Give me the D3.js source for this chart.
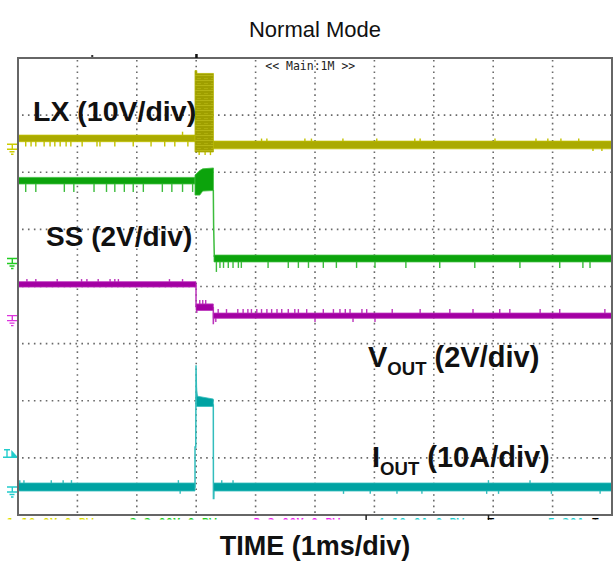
<!DOCTYPE html>
<html><head><meta charset="utf-8">
<script src="https://cdn.jsdelivr.net/npm/d3@7/dist/d3.min.js"></script>
<style>body{margin:0;background:#fff}svg{display:block}</style>
</head><body>
<svg id="c" width="613" height="561"></svg>
<script>
// ---------- data ----------
const titleText = "Normal Mode";
const xAxisLabel = "TIME (1ms/div)";
const timeDomain = [0, 10];          // ms (1 ms/div)
const divDomain = [0, 8];            // vertical divisions
const gridTimes = [1, 2, 3, 4, 5, 6, 7, 8, 9];
const gridDivs = [1, 2, 3, 4, 5, 6, 7];

const channelNames = ["LX", "SS", "VOUT", "IOUT"];
const channelUnitsPerDiv = [10, 2, 2, 10];
const channelGroundDiv = [6.49, 4.49, 3.49, 0.49];

// bands: [t(ms), low, high] in channel units
const lxBands = [
  [[0, 0.45, 1.6], [2.98, 0.45, 1.6]],
  [[3.29, -0.8, 0.55], [10, -0.8, 0.55]]
];
const lxBurst = [[2.98, -1.35, 12.9], [3.01, -1.35, 12.9], [3.012, -1.35, 12.4], [3.29, -1.35, 12.4]];
const lxLines = [];
const lxSpikes = [
  [0.13, -0.4], [0.22, -0.4], [0.30, -0.4], [0.44, -0.4], [0.54, -0.4], [0.62, -0.4], [0.71, -0.4],
  [0.81, -0.4], [0.89, -0.4], [1.08, -0.4], [1.33, -0.4], [1.38, -0.4], [1.63, -0.4], [1.94, -0.4],
  [2.24, -0.4], [2.47, -0.4], [2.64, -0.4], [2.77, 2.2], [2.86, -0.4],
  [3.05, -1.9], [3.15, -1.9], [3.24, -1.9],
  [4.10, 1.0], [4.19, 1.0], [4.83, 1.0], [4.94, 1.0], [5.47, 1.0], [6.04, 1.0], [6.68, 1.0],
  [6.77, 1.0], [8.03, 1.0], [8.72, 1.0], [8.92, 1.0], [9.14, 1.0], [9.44, 1.0], [9.68, -1.2], [9.83, -1.2]
];

const ssBands = [
  [[0, 2.61, 2.84], [2.98, 2.61, 2.84]],
  [[2.98, 2.22, 2.92], [3.06, 2.22, 3.08], [3.11, 2.36, 3.14], [3.29, 2.38, 3.17]],
  [[3.30, -0.12, 0.12], [10, -0.12, 0.12]]
];
const ssLines = [[[3.288, 2.4], [3.293, 1.2], [3.305, 0.05]]];
const ssSpikes = [
  [0.13, 2.33], [0.30, 2.33], [0.78, 2.33], [0.94, 2.33], [1.28, 2.33], [1.49, 2.33], [1.63, 2.33],
  [1.79, 2.33], [1.94, 2.33], [2.11, 2.33], [2.43, 2.33], [2.59, 2.33], [2.77, 2.33], [2.94, 2.33],
  [3.34, -0.47], [3.40, -0.33], [3.46, -0.33], [3.54, -0.33], [3.62, -0.33], [3.71, -0.33], [3.76, -0.33],
  [4.21, -0.33], [4.55, -0.33], [4.72, -0.33], [4.89, -0.33], [5.14, -0.33], [5.36, -0.33], [5.70, -0.33],
  [6.01, -0.33], [6.53, -0.33], [7.10, -0.33], [7.69, -0.33], [8.45, -0.33], [9.12, -0.33], [9.51, -0.33], [9.63, -0.33]
];

const voutBands = [
  [[0, 1.0, 1.19], [2.997, 1.0, 1.19]],
  [[2.997, 0.18, 0.41], [3.288, 0.18, 0.41]],
  [[3.288, -0.095, 0.09], [10, -0.095, 0.09]]
];
const voutLines = [[[2.997, 1.09], [2.997, 0.3]], [[3.288, 0.3], [3.288, -0.3], [3.296, 0]]];
const voutSpikes = [
  [0.15, 1.28], [0.30, 1.28], [0.66, 1.28], [1.07, 1.28], [1.16, 1.28], [1.35, 1.28], [1.55, 1.28],
  [1.63, 1.28], [1.69, 1.28], [2.55, 1.28], [2.77, 1.28],
  [3.01, 0.09], [3.06, 0.55], [3.11, 0.55], [3.16, 0.55],
  [3.33, -0.22], [3.37, 0.23], [3.51, 0.23], [3.70, 0.23], [3.79, 0.23], [3.87, 0.23], [3.93, 0.23],
  [4.02, 0.23], [4.10, 0.23], [4.19, 0.23], [4.27, 0.23], [4.36, 0.23], [4.44, 0.23], [4.55, 0.23],
  [4.66, 0.23], [4.72, 0.23], [4.86, 0.23], [5.00, -0.22], [5.14, 0.23], [5.31, 0.23], [5.42, 0.23],
  [5.51, 0.23], [5.59, 0.23], [5.64, -0.22], [5.79, 0.23], [5.87, 0.23], [6.01, -0.22], [6.30, 0.23],
  [6.77, 0.23], [7.27, 0.23], [7.66, 0.23], [8.11, 0.23], [8.28, 0.23], [8.79, 0.23], [9.12, 0.23], [9.88, 0.23]
];

const ioutBands = [
  [[0, -0.7, 0.7], [2.98, -0.7, 0.7]],
  [[3.003, 14.1, 17.0], [3.02, 14.1, 15.9], [3.288, 14.1, 15.4]],
  [[3.293, -0.7, 0.7], [10, -0.7, 0.7]]
];
const ioutLines = [
  [[2.975, 0], [2.98, 0], [2.98, 7.0], [2.993, 7.0], [2.997, 21.3], [3.003, 17.5], [3.013, 15.2]],
  [[3.288, 14.5], [3.29, -2.0], [3.297, -2.0], [3.30, 0]]
];
const ioutSpikes = [
  [0.03, 1.2], [0.10, 1.2], [0.56, 1.2], [0.76, 1.2], [0.90, 1.2], [2.70, 1.2], [2.73, -1.2],
  [3.43, 1.2], [3.62, 1.2], [5.48, -1.2], [5.93, -1.2], [6.38, -1.2], [6.80, -1.2], [7.89, -1.2],
  [7.92, 1.2], [8.09, -1.2], [8.62, 1.2], [8.98, -1.2], [9.80, -1.2]
];
const triggerLevel = 5.2;   // A on IOUT
const triggerTime = 3.0;    // ms

const readouts = [
  {text: "1  10.0V  \u03a9 BW", color: "#dddd00", t: -0.19},
  {text: "2  2.00V \u03a9 BW", color: "#22cc22", t: 1.88},
  {text: "3 2.00V \u03a9 BW", color: "#ee22ee", t: 3.96},
  {text: "4 10.0A \u03a9 BW", color: "#22cccc", t: 6.05},
  {text: "T", color: "#000", t: 7.9},
  {text: "5.20A", color: "#22cccc", t: 8.92},
  {text: "T", color: "#000", t: 9.66}
];

// ---------- drawing ----------
const W = 613, H = 561;
const L = 18, R = 612, T = 58, B = 515;
const svg = d3.select("#c");
const x = d3.scaleLinear().domain(timeDomain).range([L, R]);
const y = d3.scaleLinear().domain(divDomain).range([B, T]);
const FONT = "'Liberation Sans', Arial, Helvetica, sans-serif";

const channels = [
  {bands: lxBands, lines: lxLines, spikes: lxSpikes, fill: "#aaaa00", line: "#c2c200", mark: "#cccc00"},
  {bands: ssBands, lines: ssLines, spikes: ssSpikes, fill: "#0ca30c", line: "#3cbc3c", mark: "#22cc22"},
  {bands: voutBands, lines: voutLines, spikes: voutSpikes, fill: "#a300a3", line: "#bb33bb", mark: "#dd33dd"},
  {bands: ioutBands, lines: ioutLines, spikes: ioutSpikes, fill: "#00a2a2", line: "#33bdbd", mark: "#22cccc"}
];
channels.forEach((c, i) => {
  const g0 = channelGroundDiv[i], s = channelUnitsPerDiv[i];
  c.yv = v => y(g0 + v / s);
});

const defs = svg.append("defs");
defs.append("clipPath").attr("id", "plotclip").append("rect")
  .attr("x", x(timeDomain[0])).attr("y", y(divDomain[1]))
  .attr("width", x(timeDomain[1]) - x(timeDomain[0])).attr("height", y(divDomain[0]) - y(divDomain[1]));
const pat = defs.append("pattern").attr("id", "burst").attr("patternUnits", "userSpaceOnUse")
  .attr("width", 7).attr("height", 5);
pat.append("rect").attr("width", 7).attr("height", 5).attr("fill", "#9f9f00");
pat.append("rect").attr("width", 7).attr("height", 1).attr("fill", "#b6b614");
pat.append("rect").attr("x", 1).attr("y", 3).attr("width", 4).attr("height", 1).attr("fill", "#aeae0a");
defs.append("clipPath").attr("id", "readclip").append("rect")
  .attr("x", 0).attr("y", B + 1.5).attr("width", W).attr("height", 3);

// grid
const grid = svg.append("g");
grid.selectAll("line.v").data(gridTimes).join("line")
  .attr("x1", d => x(d)).attr("x2", d => x(d))
  .attr("y1", y(divDomain[1]) + 2).attr("y2", y(divDomain[0]) - 1)
  .attr("stroke", "#6a6a6a").attr("stroke-width", 1.6)
  .attr("stroke-dasharray", `1.6 ${(y(0) - y(0.1)) - 1.6}`);
grid.selectAll("line.h").data(gridDivs).join("line")
  .attr("x1", x(timeDomain[0]) + 4).attr("x2", x(timeDomain[1]) - 1)
  .attr("y1", d => y(d)).attr("y2", d => y(d))
  .attr("stroke", "#6a6a6a").attr("stroke-width", 1.6)
  .attr("stroke-dasharray", `1.6 ${(x(0.1) - x(0)) - 1.6}`);

// traces
const plot = svg.append("g").attr("clip-path", "url(#plotclip)");
channels.forEach(c => {
  const g = plot.append("g");
  const area = d3.area().x(d => x(d[0])).y0(d => c.yv(d[1])).y1(d => c.yv(d[2]));
  const line = d3.line().x(d => x(d[0])).y(d => c.yv(d[1]));
  const centre = t => {
    for (const b of c.bands) {
      if (t >= b[0][0] && t <= b[b.length - 1][0]) {
        for (let k = 0; k < b.length - 1; k++) {
          if (t >= b[k][0] && t <= b[k + 1][0]) {
            const f = (t - b[k][0]) / ((b[k + 1][0] - b[k][0]) || 1);
            return ((b[k][1] + f * (b[k + 1][1] - b[k][1])) + (b[k][2] + f * (b[k + 1][2] - b[k][2]))) / 2;
          }
        }
      }
    }
    return 0;
  };
  g.selectAll("line.sp").data(c.spikes).join("line")
    .attr("x1", d => x(d[0])).attr("x2", d => x(d[0]))
    .attr("y1", d => c.yv(centre(d[0]))).attr("y2", d => c.yv(d[1]))
    .attr("stroke", c.line).attr("stroke-width", 1.4);
  g.selectAll("path.ln").data(c.lines).join("path")
    .attr("d", line).attr("fill", "none").attr("stroke", c.line).attr("stroke-width", 1.5);
  g.selectAll("path.bd").data(c.bands).join("path")
    .attr("d", area).attr("fill", c.fill).attr("stroke", c.line).attr("stroke-width", 0.8);
  c.area = area;
});
// LX switching burst
plot.append("path").datum(lxBurst).attr("d", channels[0].area)
  .attr("fill", "url(#burst)").attr("stroke", "#b4b400").attr("stroke-width", 0.8);

// ground markers
channels.forEach((c, i) => {
  const gy = c.yv(0);
  const m = svg.append("g").attr("stroke", c.mark).attr("stroke-width", 1.4).attr("fill", "none");
  m.append("path").attr("d",
    `M7,${gy}H18M12.3,${gy}V${gy + 5}M7,${gy + 5}H17M9.5,${gy + 7.5}H14.5M11,${gy + 10}H13.5`);
});
// trigger marker
{
  const ty = channels[3].yv(triggerLevel);
  const m = svg.append("g").attr("stroke", "#22cccc").attr("stroke-width", 1.4).attr("fill", "none");
  m.append("path").attr("d", `M4,${ty - 7.5}H10M7,${ty - 7.5}V${ty}M3,${ty}H18`);
  m.append("path").attr("d", `M12,${ty - 5.5}L17,${ty}L12,${ty}Z`).attr("fill", "#22cccc");
}

// frame
svg.append("rect").attr("x", L).attr("y", T).attr("width", R - L).attr("height", B - T)
  .attr("fill", "none").attr("stroke", "#666").attr("stroke-width", 2);
svg.append("rect").attr("x", x(triggerTime) - 1).attr("y", T - 4).attr("width", 2.5).attr("height", 4).attr("fill", "#111");
svg.append("rect").attr("x", x(1.25) - 1).attr("y", T - 3).attr("width", 2).attr("height", 2).attr("fill", "#333");
svg.selectAll("rect.bt").data([5.86, 7.92]).join("rect")
  .attr("x", d => x(d) - 0.7).attr("y", B).attr("width", 1.5).attr("height", 5).attr("fill", "#222");

// clipped readout line below frame
svg.append("g").attr("clip-path", "url(#readclip)")
  .selectAll("text").data(readouts).join("text")
  .attr("x", d => x(d.t)).attr("y", B + 12)
  .attr("fill", d => d.color)
  .style("font-family", "'DejaVu Sans Mono', monospace").style("font-size", "12px").style("font-weight", "bold")
  .text(d => d.text);

// Main:1M marker
svg.append("text").attr("x", x(4.92)).attr("y", T + 12)
  .attr("text-anchor", "middle").attr("fill", "#222")
  .style("font-family", "'DejaVu Sans Mono', monospace").style("font-size", "11.5px")
  .text("<< Main:1M >>");

// title and axis label
svg.append("text").attr("x", (L + R) / 2).attr("y", 37).attr("text-anchor", "middle")
  .style("font-family", FONT).style("font-size", "22px").attr("fill", "#111").text(titleText);
svg.append("text").attr("x", (L + R) / 2).attr("y", 555).attr("text-anchor", "middle")
  .style("font-family", FONT).style("font-size", "27px").style("font-weight", "bold").attr("fill", "#111").text(xAxisLabel);

// channel labels
const lab = (xx, yy, main, sub, rest, size) => {
  const t = svg.append("text").attr("x", xx).attr("y", yy)
    .style("font-family", FONT).style("font-weight", "bold").style("font-size", size + "px").attr("fill", "#111");
  t.append("tspan").text(main);
  if (sub) {
    t.append("tspan").attr("dy", size * 0.28).style("font-size", (size * 0.64) + "px").text(sub);
    t.append("tspan").attr("dy", -size * 0.28).text(rest);
  } else t.append("tspan").text(rest);
};
lab(33, 121, "LX", null, " (10V/div)", 28.5);
lab(46, 246, "SS", null, " (2V/div)", 28);
lab(368, 367, "V", "OUT", " (2V/div)", 29);
lab(372, 467, "I", "OUT", " (10A/div)", 29);
</script>
</body></html>
